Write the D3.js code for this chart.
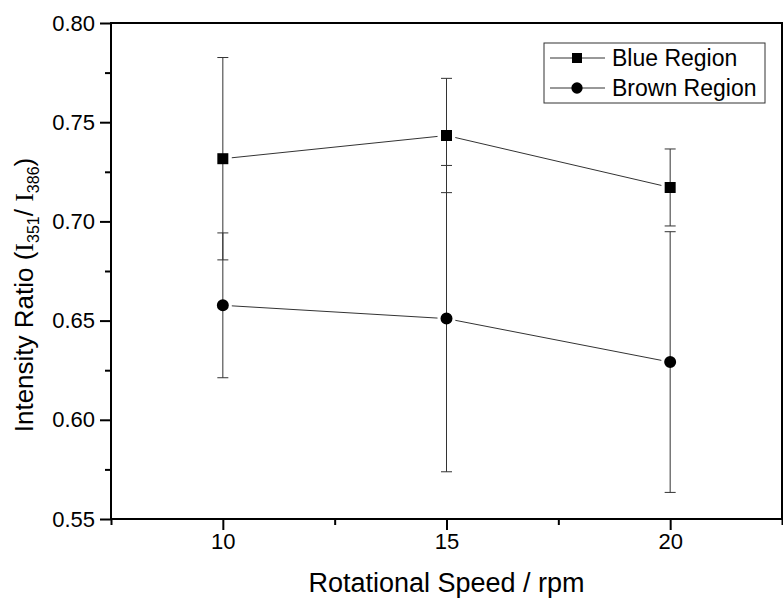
<!DOCTYPE html>
<html lang="en">
  <head>
    <meta charset="utf-8" />
    <title>Intensity ratio vs rotational speed</title>
    <script src="https://d3js.org/d3.v7.min.js"></script>
    <style>
      body {
        margin: 0;
        background: white;
      }
      text {
        font-family: "Liberation Sans", Arial, sans-serif;
        fill: black;
      }
      .frame {
        fill: none;
        stroke: black;
        stroke-width: 2;
      }
    </style>
  </head>
  <body>
    <svg width="783" height="603"></svg>
    <script type="text/javascript">
      const speeds = [10, 15, 20];
      const blueValues = [0.7316, 0.7433, 0.7171];
      const blueErrors = [0.051, 0.0288, 0.0194];
      const brownValues = [0.6577, 0.651, 0.6291];
      const brownErrors = [0.0365, 0.0772, 0.0657];
      const xTicks = [10, 15, 20];
      const xMinorTicks = [7.5, 12.5, 17.5, 22.5];
      const yTicks = [0.55, 0.6, 0.65, 0.7, 0.75, 0.8];
      const yMinorTicks = [0.575, 0.625, 0.675, 0.725, 0.775];

      const margin = { top: 23, right: 1, bottom: 84, left: 111 };
      const width = 783;
      const height = 603;

      const series = [
        { name: "Blue Region", values: blueValues, errors: blueErrors, shape: d3.symbolSquare },
        { name: "Brown Region", values: brownValues, errors: brownErrors, shape: d3.symbolCircle },
      ];

      const x = d3
        .scaleLinear()
        .domain([7.5, 22.5])
        .range([margin.left, width - margin.right]);
      const y = d3
        .scaleLinear()
        .domain([0.55, 0.8])
        .range([height - margin.bottom, margin.top]);

      const svg = d3.select("svg");

      // frame
      svg
        .append("rect")
        .attr("class", "frame")
        .attr("x", x.range()[0])
        .attr("y", y.range()[1])
        .attr("width", x.range()[1] - x.range()[0])
        .attr("height", y.range()[0] - y.range()[1]);

      // axes (Origin-like outward ticks)
      svg
        .append("g")
        .attr("transform", `translate(0,${y.range()[0]})`)
        .call(d3.axisBottom(x).tickValues(xTicks).tickSize(11).tickPadding(3).tickFormat(d3.format("d")));
      svg
        .append("g")
        .attr("transform", `translate(0,${y.range()[0]})`)
        .call(d3.axisBottom(x).tickValues(xMinorTicks).tickSize(6).tickFormat(""));

      svg
        .append("g")
        .attr("transform", `translate(${x.range()[0]},0)`)
        .call(d3.axisLeft(y).tickValues(yTicks).tickSize(11).tickPadding(5).tickFormat(d3.format(".2f")));
      svg
        .append("g")
        .attr("transform", `translate(${x.range()[0]},0)`)
        .call(d3.axisLeft(y).tickValues(yMinorTicks).tickSize(6).tickFormat(""));

      svg.selectAll(".domain").remove();
      svg.selectAll(".tick line").attr("stroke", "black").attr("stroke-width", 2);
      svg
        .selectAll(".tick text")
        .attr("font-family", "'Liberation Sans', Arial, sans-serif")
        .attr("font-size", "22px")
        .attr("fill", "black");

      // error bars
      const capHalf = 5.5;
      series.forEach((s) => {
        const g = svg.append("g").attr("stroke", "#333").attr("stroke-width", 1);
        speeds.forEach((sp, i) => {
          const cx = x(sp);
          const hi = y(s.values[i] + s.errors[i]);
          const lo = y(s.values[i] - s.errors[i]);
          g.append("line").attr("x1", cx).attr("x2", cx).attr("y1", hi).attr("y2", lo);
          g.append("line").attr("x1", cx - capHalf).attr("x2", cx + capHalf).attr("y1", hi).attr("y2", hi);
          g.append("line").attr("x1", cx - capHalf).attr("x2", cx + capHalf).attr("y1", lo).attr("y2", lo);
        });
      });

      // connecting lines with a gap around the markers
      const gap = 9;
      series.forEach((s) => {
        const pts = speeds.map((sp, i) => [x(sp), y(s.values[i])]);
        const g = svg.append("g").attr("stroke", "#333").attr("stroke-width", 1);
        for (let i = 0; i < pts.length - 1; i++) {
          const [x1, y1] = pts[i];
          const [x2, y2] = pts[i + 1];
          const len = Math.hypot(x2 - x1, y2 - y1);
          const ux = (x2 - x1) / len;
          const uy = (y2 - y1) / len;
          g.append("line")
            .attr("x1", x1 + ux * gap)
            .attr("y1", y1 + uy * gap)
            .attr("x2", x2 - ux * gap)
            .attr("y2", y2 - uy * gap);
        }
      });

      // markers
      series.forEach((s) => {
        svg
          .append("g")
          .selectAll("path")
          .data(speeds)
          .join("path")
          .attr("transform", (d, i) => `translate(${x(d)},${y(s.values[i])})`)
          .attr("d", d3.symbol().type(s.shape).size(s.shape === d3.symbolSquare ? 121 : 113))
          .attr("fill", "black");
      });

      // legend
      const legend = svg.append("g").attr("transform", "translate(544,43)");
      legend
        .append("rect")
        .attr("width", 221)
        .attr("height", 60)
        .attr("fill", "white")
        .attr("stroke", "#333")
        .attr("stroke-width", 1);
      series.forEach((s, i) => {
        const row = legend.append("g").attr("transform", `translate(0,${15 + i * 30})`);
        row.append("line").attr("x1", 6).attr("x2", 61).attr("stroke", "#333").attr("stroke-width", 1);
        row
          .append("path")
          .attr("transform", "translate(33,0)")
          .attr("d", d3.symbol().type(s.shape).size(100))
          .attr("fill", "black");
        row
          .append("text")
          .attr("x", 68)
          .attr("y", 8)
          .attr("font-size", "23px")
          .text(s.name);
      });

      // axis titles
      svg
        .append("text")
        .attr("x", (x.range()[0] + x.range()[1]) / 2)
        .attr("y", 592)
        .attr("text-anchor", "middle")
        .attr("font-size", "27px")
        .text("Rotational Speed / rpm");

      const yTitle = svg
        .append("text")
        .attr("transform", "translate(33,295) rotate(-90)")
        .attr("text-anchor", "middle")
        .attr("font-size", "26px");
      yTitle.append("tspan").text("Intensity Ratio (");
      yTitle.append("tspan").attr("font-family", "'Liberation Serif', serif").text("I");
      yTitle.append("tspan").attr("font-size", "16px").attr("dy", 6).text("351");
      yTitle.append("tspan").attr("dy", -6).text("/ ");
      yTitle.append("tspan").attr("font-family", "'Liberation Serif', serif").text("I");
      yTitle.append("tspan").attr("font-size", "16px").attr("dy", 6).text("386");
      yTitle.append("tspan").attr("dy", -6).text(")");
    </script>
  </body>
</html>
